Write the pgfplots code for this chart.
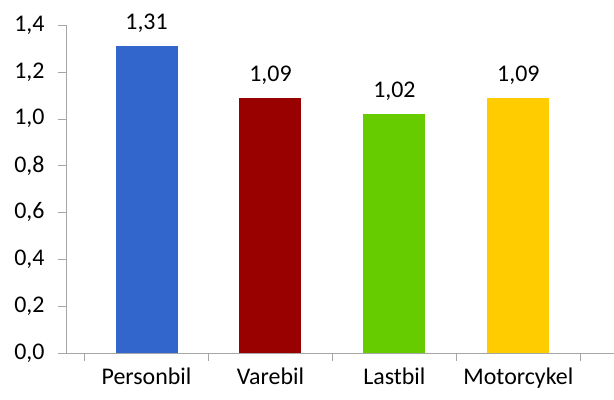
\documentclass[border=0pt]{standalone}
\usepackage{pgfplots}
\pgfplotsset{compat=1.18}
\usepackage{fontspec}
\setmainfont{Carlito}
\definecolor{c1}{HTML}{3366CC}
\definecolor{c2}{HTML}{990000}
\definecolor{c3}{HTML}{66CC00}
\definecolor{c4}{HTML}{FFCC00}
\begin{document}
\begin{tikzpicture}
\begin{axis}[
  scale only axis, width=548bp, height=328bp,
  xmin=-0.65, xmax=3.77, ymin=0, ymax=1.4,
  axis x line=bottom, axis y line=left,
  axis line style={draw=gray!70,-},
  xtick={-0.5,0.5,1.5,2.5,3.5}, xticklabels={},
  extra x ticks={0,1,2,3}, extra x tick labels={Personbil,Varebil,Lastbil,Motorcykel},
  extra x tick style={major tick length=0bp, tick label style={yshift=-12bp}},
  ytick={0,0.2,...,1.4},
  tick style={draw=gray!70}, major tick length=8bp,
  tick align=outside,
  yticklabel style={xshift=-10bp,/pgf/number format/.cd,fixed,fixed zerofill,precision=1,use comma},
  /pgf/number format/assume math mode=true,
  tick label style={font=\fontsize{24}{28}\selectfont},
  ybar, bar width=62bp, bar shift=0pt,
  nodes near coords,
  every node near coord/.append style={font=\fontsize{24}{28}\selectfont, yshift=10bp,
    /pgf/number format/.cd,fixed,fixed zerofill,precision=2,use comma,assume math mode=true},
  clip=false,
]
\addplot[fill=c1,draw=none] coordinates {(0,1.31)};
\addplot[fill=c2,draw=none] coordinates {(1,1.09)};
\addplot[fill=c3,draw=none] coordinates {(2,1.02)};
\addplot[fill=c4,draw=none] coordinates {(3,1.09)};
\end{axis}
\path[use as bounding box] (-66bp,-47bp) rectangle (548bp,353bp);
\end{tikzpicture}
\end{document}
